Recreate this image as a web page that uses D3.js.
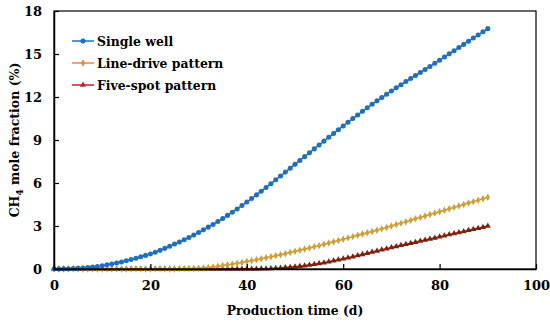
<!DOCTYPE html>
<html>
<head>
<meta charset="utf-8">
<script src="https://cdn.jsdelivr.net/npm/d3@7"></script>
<style>
  body { margin: 0; background: #fff; }
  svg text { font-family: "DejaVu Serif", "Liberation Serif", serif; font-weight: bold; fill: #000; }
</style>
</head>
<body>
<main></main>
<script>
// datos (dias 0..90)
const days = d3.range(0, 91);

const singleWell = [0, 0, 0.01, 0.02, 0.03, 0.05, 0.07, 0.10, 0.14, 0.18,
  0.23, 0.29, 0.35, 0.42, 0.49, 0.57, 0.66, 0.75, 0.85, 0.95,
  1.05, 1.17, 1.30, 1.44, 1.59, 1.74, 1.89, 2.04, 2.20, 2.37,
  2.55, 2.73, 2.92, 3.11, 3.31, 3.52, 3.74, 3.96, 4.19, 4.43,
  4.67, 4.92, 5.17, 5.43, 5.69, 5.95, 6.22, 6.49, 6.76, 7.03,
  7.30, 7.57, 7.84, 8.11, 8.38, 8.65, 8.92, 9.19, 9.46, 9.72,
  9.98, 10.24, 10.50, 10.75, 11.00, 11.25, 11.49, 11.73, 11.96, 12.19,
  12.42, 12.64, 12.86, 13.08, 13.29, 13.50, 13.71, 13.92, 14.13, 14.35,
  14.57, 14.79, 15.01, 15.23, 15.45, 15.67, 15.89, 16.11, 16.33, 16.55,
  16.77];

const lineDrive = [0, 0, 0, 0, 0, 0, 0, 0, 0, 0,
  0, 0, 0, 0, 0, 0, 0, 0, 0, 0,
  0, 0, 0, 0, 0, 0, 0.01, 0.01, 0.02, 0.03,
  0.05, 0.07, 0.10, 0.14, 0.19, 0.24, 0.29, 0.34, 0.40, 0.46,
  0.52, 0.58, 0.64, 0.71, 0.78, 0.85, 0.92, 0.99, 1.07, 1.15,
  1.23, 1.31, 1.39, 1.47, 1.55, 1.63, 1.72, 1.81, 1.90, 1.99,
  2.08, 2.17, 2.26, 2.35, 2.44, 2.53, 2.62, 2.71, 2.80, 2.90,
  3.00, 3.10, 3.20, 3.30, 3.40, 3.50, 3.60, 3.70, 3.80, 3.90,
  4.00, 4.10, 4.20, 4.30, 4.40, 4.50, 4.60, 4.70, 4.80, 4.90,
  5.00];

const fiveSpot = [0, 0, 0, 0, 0, 0, 0, 0, 0, 0,
  0, 0, 0, 0, 0, 0, 0, 0, 0, 0,
  0, 0, 0, 0, 0, 0, 0, 0, 0, 0,
  0, 0, 0, 0, 0, 0, 0, 0, 0, 0,
  0, 0, 0, 0.01, 0.02, 0.03, 0.05, 0.07, 0.10, 0.13,
  0.16, 0.19, 0.23, 0.28, 0.33, 0.38, 0.44, 0.50, 0.57, 0.64,
  0.71, 0.78, 0.86, 0.94, 1.02, 1.10, 1.18, 1.26, 1.34, 1.42,
  1.50, 1.57, 1.65, 1.72, 1.80, 1.87, 1.95, 2.02, 2.10, 2.17,
  2.25, 2.32, 2.40, 2.47, 2.55, 2.62, 2.70, 2.77, 2.85, 2.92,
  3.00];

const seriesNames = ['Single well', 'Line-drive pattern', 'Five-spot pattern'];
const xTicks = [0, 20, 40, 60, 80, 100];
const yTicks = [0, 3, 6, 9, 12, 15, 18];

const w = 550;
const h = 326;
const margin = { top: 11, right: 14, bottom: 57, left: 54 };

const svg = d3.select('main')
  .append('svg')
  .attr('width', w)
  .attr('height', h);

const x = d3.scaleLinear().domain([0, 100]).range([margin.left, w - margin.right]);
const y = d3.scaleLinear().domain([0, 18]).range([h - margin.bottom, margin.top]);

// series: color de linea, color de marcador, simbolo
const series = [
  { name: seriesNames[0], values: singleWell, line: '#1f6fbf', mark: '#1f6fbf', legend: '#1f6fbf', sym: d3.symbolCircle, size: 20 },
  { name: seriesNames[1], values: lineDrive, line: '#e8883a', mark: '#c9a33a', legend: '#f0843c', sym: d3.symbolDiamond, size: 16 },
  { name: seriesNames[2], values: fiveSpot, line: '#c00000', mark: '#7a2410', legend: '#c8202a', sym: d3.symbolTriangle, size: 16 }
];

const line = d3.line()
  .x((d, i) => x(days[i]))
  .y(d => y(d));

series.slice().reverse().forEach(s => {
  svg.append('path')
    .attr('d', line(s.values))
    .attr('fill', 'none')
    .attr('stroke', s.line)
    .attr('stroke-width', 1.5);

  svg.append('g')
    .selectAll('path')
    .data(s.values)
    .enter()
    .append('path')
    .attr('transform', (d, i) => `translate(${x(days[i])},${y(d)})`)
    .attr('d', d3.symbol().type(s.sym).size(s.size))
    .attr('fill', s.mark);
});

// marco y ejes
svg.append('rect')
  .attr('x', x(0))
  .attr('y', y(18))
  .attr('width', x(100) - x(0))
  .attr('height', y(0) - y(18))
  .attr('fill', 'none')
  .attr('stroke', '#000')
  .attr('stroke-width', 1.2);

const xAxis = svg.append('g')
  .attr('transform', `translate(0,${y(0)})`)
  .call(d3.axisBottom(x).tickValues(xTicks).tickSizeInner(-5).tickSizeOuter(0).tickPadding(12));

const yAxis = svg.append('g')
  .attr('transform', `translate(${x(0)},0)`)
  .call(d3.axisLeft(y).tickValues(yTicks).tickSizeInner(-5).tickSizeOuter(0).tickPadding(12));

[xAxis, yAxis].forEach(a => {
  a.select('.domain').attr('stroke', '#000').attr('stroke-width', 1.5);
  a.selectAll('.tick line').attr('stroke', '#000').attr('stroke-width', 1.2);
  a.selectAll('.tick text')
    .attr('font-size', '13px')
    .style('font-family', '"DejaVu Serif", "Liberation Serif", serif')
    .style('font-weight', 'bold')
    .attr('fill', '#000');
});

// titulos
svg.append('text')
  .attr('x', (x(0) + x(100)) / 2)
  .attr('y', 315)
  .attr('text-anchor', 'middle')
  .attr('font-size', '12.3px')
  .text('Production time (d)');

const yTitle = svg.append('text')
  .attr('transform', `translate(19,${(y(0) + y(18)) / 2}) rotate(-90)`)
  .attr('text-anchor', 'middle')
  .attr('font-size', '12.5px');
yTitle.append('tspan').text('CH');
yTitle.append('tspan').attr('font-size', '9px').attr('dy', 4).text('4');
yTitle.append('tspan').attr('dy', -4).text(' mole fraction (%)');

// leyenda
const legend = svg.append('g')
  .attr('transform', 'translate(72,41)');

const item = legend.selectAll('g')
  .data(series)
  .enter()
  .append('g')
  .attr('transform', (d, i) => `translate(0,${i * 22})`);

item.append('line')
  .attr('x1', 0).attr('x2', 22)
  .attr('y1', 0).attr('y2', 0)
  .attr('stroke', d => d.legend)
  .attr('stroke-width', 1.5);

item.append('path')
  .attr('transform', 'translate(11,0)')
  .attr('d', d => d3.symbol().type(d.sym).size(d.size)())
  .attr('fill', d => d.legend);

item.append('text')
  .attr('x', 25)
  .attr('y', 5)
  .attr('font-size', '12.4px')
  .text(d => d.name);
</script>
</body>
</html>
